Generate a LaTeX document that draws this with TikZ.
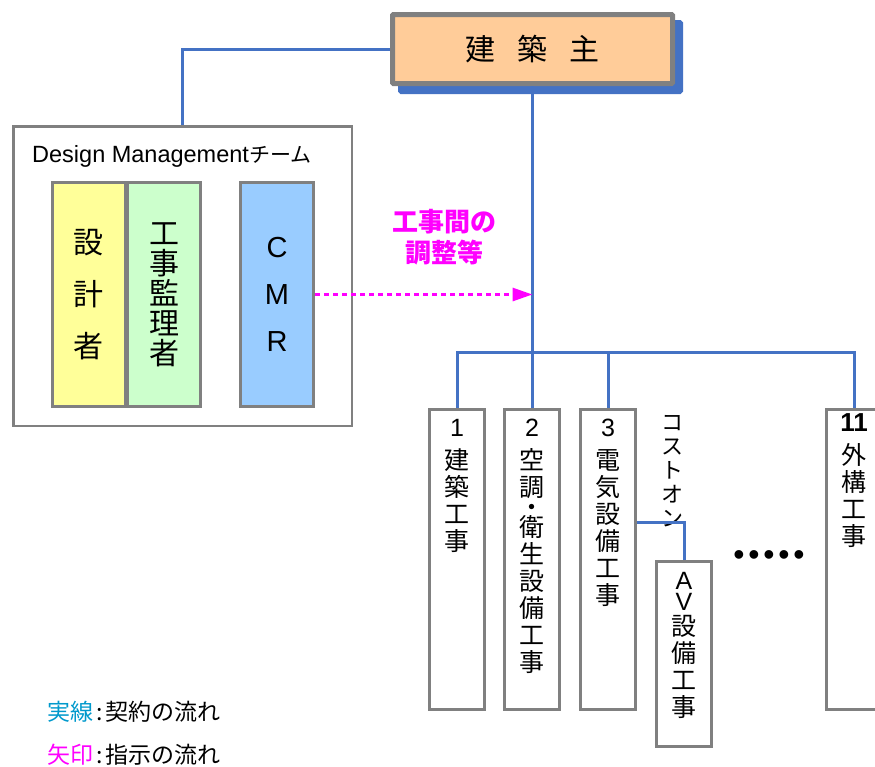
\documentclass[tikz,border=0pt]{standalone}
\usepackage{fontspec}
\setmainfont{Noto Sans CJK JP}
\newfontfamily\lat{Liberation Sans}
\usetikzlibrary{shapes,shadows,arrows.meta}
\newcommand\tightskip{\lineskiplimit=-20pt\relax}
\definecolor{cm_line}{RGB}{68,114,196}
\definecolor{cm_gray}{RGB}{128,128,128}
\definecolor{cm_peach}{RGB}{255,204,153}
\definecolor{cm_yellow}{RGB}{255,255,153}
\definecolor{cm_green}{RGB}{204,255,204}
\definecolor{cm_blue}{RGB}{153,204,255}
\definecolor{cm_pink}{RGB}{255,0,255}
\definecolor{cm_cyan}{RGB}{0,153,204}
\tikzstyle{ob}=[rectangle,draw=cm_gray,fill=cm_peach,line width=5pt,rounded corners=1pt,
  minimum width=280pt,minimum height=69pt,inner sep=0pt,
  drop shadow={shadow xshift=8pt,shadow yshift=-8pt,fill=cm_line,draw=cm_line,line width=5pt,opacity=1}]
\tikzstyle{dm}=[rectangle,draw=cm_gray,line width=2.5pt,minimum width=338.5pt,minimum height=299.5pt,inner sep=0pt]
\tikzstyle{mb}=[rectangle,draw=cm_gray,line width=3pt,minimum width=73pt,minimum height=224pt,inner sep=0pt,align=center]
\tikzstyle{wb}=[rectangle,draw=cm_gray,fill=white,line width=3pt,minimum width=55pt,minimum height=300pt,inner sep=0pt]
\tikzstyle{vt}=[inner sep=0pt,align=center,anchor=north,font=\fontsize{25}{27}\selectfont\tightskip]
\tikzstyle{wire}=[draw=cm_line,line width=3pt]
\tikzstyle{order}=[draw=cm_pink,line width=3pt,dash pattern=on 5pt off 4pt,-{Triangle[length=20pt,width=13pt]}]
\tikzstyle{legend}=[anchor=west,inner sep=0pt,font=\fontsize{23}{23}\selectfont]

\begin{document}
\begin{tikzpicture}[x=1pt,y=-1pt]
    \useasboundingbox (0,0) rectangle (875,766);
    \clip (0,0) rectangle (875,766);
    \node [style=ob,font=\fontsize{30}{30}\selectfont] (owner) at (532.5,49) {建\hspace{22pt}築\hspace{22pt}主};
    \node [style=dm] (dmteam) at (182.5,276) {};
    \node [anchor=base west,inner sep=0pt,font=\fontsize{21}{21}\selectfont] (dmtitle) at (32,162) {{\lat\fontsize{23.5}{23.5}\selectfont Design Management}チーム};
    \node [style=mb,fill=cm_yellow,font=\fontsize{30}{52}\selectfont] (sekkei) at (88.5,294.5) {設\\計\\者};
    \node [style=mb,fill=cm_green,font=\fontsize{30}{30}\selectfont\tightskip] (kanri) at (164,294.5) {工\\事\\監\\理\\者};
    \node [style=mb,fill=cm_blue,font=\lat\fontsize{29}{47}\selectfont] (cmr) at (277,294.5) {C\\M\\R};
    \node [style=wb] (c1) at (457,559.5) {};
    \node [style=wb] (c2) at (532,559.5) {};
    \node [style=wb] (c3) at (608,559.5) {};
    \node [style=wb] (c11) at (854,559.5) {};
    \node [style=wb,minimum height=185pt] (av) at (684,654) {};
    \node [style=vt] (t1) at ([yshift=-11pt]c1.north) {{\lat 1}\\[6pt]建\\築\\工\\事};
    \node [style=vt] (t2) at ([yshift=-11pt]c2.north) {{\lat 2}\\[6pt]空\\調\\[-7pt]・\\[-7pt]衛\\生\\設\\備\\工\\事};
    \node [style=vt] (t3) at ([yshift=-11pt]c3.north) {{\lat 3}\\[6pt]電\\気\\設\\備\\工\\事};
    \node [style=vt] (t11) at ([yshift=-5.5pt]c11.north) {{\lat\bfseries\fontsize{26}{27}\selectfont 11}\\[6pt]外\\構\\工\\事};
    \node [style=vt] (tav) at ([yshift=-12pt]av.north) {{\lat A}\\[-6pt]{\lat V}\\[-2pt]設\\備\\工\\事};
    \node [style=vt,font=\fontsize{22}{24}\selectfont] (coston) at (672,415) {コ\\ス\\ト\\オ\\ン};
    \node [inner sep=0pt,font=\lat\fontsize{32}{32}\selectfont\addfontfeature{LetterSpace=12}] (dots) at (769,558) {•••••};
    \coordinate (bus) at (532.5,352);
    \draw [style=wire] (owner.west) -| (dmteam.north);
    \draw [style=wire] (owner.south) -- (bus);
    \draw [style=wire] (c1.north) |- (bus) -| (c11.north);
    \draw [style=wire] (c2.north) -- (c2.north |- bus);
    \draw [style=wire] (c3.north) -- (c3.north |- bus);
    \draw [style=wire] ([yshift=37.5pt]c3.east) -| (av.north);
    \draw [style=order] (cmr.east) -- (cmr.east -| owner.south);
    \node [font=\bfseries\fontsize{26}{31}\selectfont,text=cm_pink,align=center] (adjust) at (444,237) {工事間の\\調整等};
    \node [style=legend] (leg1) at (47,712) {\textcolor{cm_cyan}{実線}\hspace{3pt}:\hspace{3pt}契約の流れ};
    \node [style=legend] (leg2) at (47,755) {\textcolor{cm_pink}{矢印}\hspace{3pt}:\hspace{3pt}指示の流れ};
\end{tikzpicture}
\end{document}
